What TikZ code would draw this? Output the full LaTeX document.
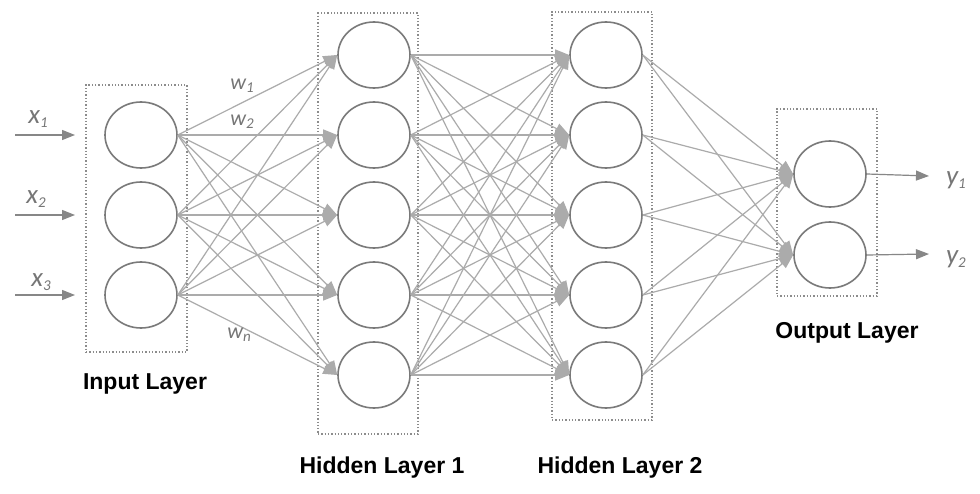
\documentclass[tikz,border=0pt]{standalone}
\usepackage{fontspec}
\setmainfont{Liberation Sans}
\newfontfamily\lblfont{Carlito}
\usetikzlibrary{shapes.geometric,arrows.meta}
\definecolor{edgec}{HTML}{ABABAB}
\definecolor{circc}{HTML}{7A7A7A}
\definecolor{boxc}{HTML}{8C8C8C}
\definecolor{lblc}{HTML}{767676}
\tikzset{
  neuron/.style={ellipse,draw=circc,line width=1.6pt,minimum width=72pt,minimum height=66pt,inner sep=0pt},
  layerbox/.style={draw=boxc,dotted,line width=1.3pt},
  conn/.style={draw=edgec,line width=1.2pt,-{Triangle[length=14pt,width=11pt]}},
  ioarrow/.style={draw=circc!90,line width=1.2pt,-{Triangle[length=13pt,width=10pt]}},
  title/.style={font=\fontsize{23}{26}\selectfont\bfseries,text=black},
  varlbl/.style={font=\fontsize{27}{29}\selectfont\lblfont\itshape,text=lblc},
  wlbl/.style={font=\fontsize{22}{24}\selectfont\lblfont\itshape,text=lblc}
}
\newcommand{\sbs}[1]{\raisebox{-0.3ex}{\fontsize{15}{16}\selectfont #1}}
\begin{document}
\begin{tikzpicture}[x=1pt,y=-1pt]
\useasboundingbox[fill=white] (0,0) rectangle (980,494);
% boxes
\node[layerbox,minimum width=101pt,minimum height=267pt,inner sep=0pt] (bin) at (136.5,218.5) {};
\node[layerbox,minimum width=100pt,minimum height=421pt,inner sep=0pt] (bh1) at (368,223.5) {};
\node[layerbox,minimum width=100pt,minimum height=408pt,inner sep=0pt] (bh2) at (602,216) {};
\node[layerbox,minimum width=100pt,minimum height=187pt,inner sep=0pt] (bout) at (827,202.5) {};
% neurons
\foreach \i/\y in {1/135,2/215,3/295} \node[neuron] (i\i) at (141,\y) {};
\foreach \i/\y in {1/55,2/135,3/215,4/295,5/375} \node[neuron] (a\i) at (374,\y) {};
\foreach \i/\y in {1/55,2/135,3/215,4/295,5/375} \node[neuron] (b\i) at (606,\y) {};
\foreach \i/\y in {1/174,2/255} \node[neuron] (o\i) at (830,\y) {};
% connections
\foreach \s in {1,2,3} \foreach \t in {1,...,5} \draw[conn] (i\s.east) -- (a\t.west);
\foreach \s in {1,...,5} \foreach \t in {1,...,5} \draw[conn] (a\s.east) -- (b\t.west);
\foreach \s in {1,...,5} \foreach \t in {1,2} \draw[conn] (b\s.east) -- (o\t.west);
% inputs
\foreach \i/\y in {1/135,2/215,3/295} {
  \coordinate (xs\i) at (15,\y);
  \coordinate (xe\i) at (75,\y);
  \draw[ioarrow] (xs\i) -- (xe\i);
}
\node[varlbl] (x1) at (38,119) {x\sbs{1}};
\node[varlbl] (x2) at (36,199) {x\sbs{2}};
\node[varlbl] (x3) at (41,282) {x\sbs{3}};
% outputs
\foreach \i/\y in {1/176,2/254} {
  \coordinate (ye\i) at (929,\y);
  \draw[ioarrow] (o\i.east) -- (ye\i);
}
\node[varlbl] (y1) at (956,180) {y\sbs{1}};
\node[varlbl] (y2) at (956,259) {y\sbs{2}};
% weights
\node[wlbl] (w1) at (242,86) {w\sbs{1}};
\node[wlbl] (w2) at (242,122) {w\sbs{2}};
\node[wlbl] (wn) at (239,335) {w\sbs{n}};
% titles
\node[title] (tin) at (145,384) {Input Layer};
\node[title] (th1) at (382,468) {Hidden Layer 1};
\node[title] (th2) at (620,468) {Hidden Layer 2};
\node[title] (tout) at (847,333) {Output Layer};
\end{tikzpicture}
\end{document}
